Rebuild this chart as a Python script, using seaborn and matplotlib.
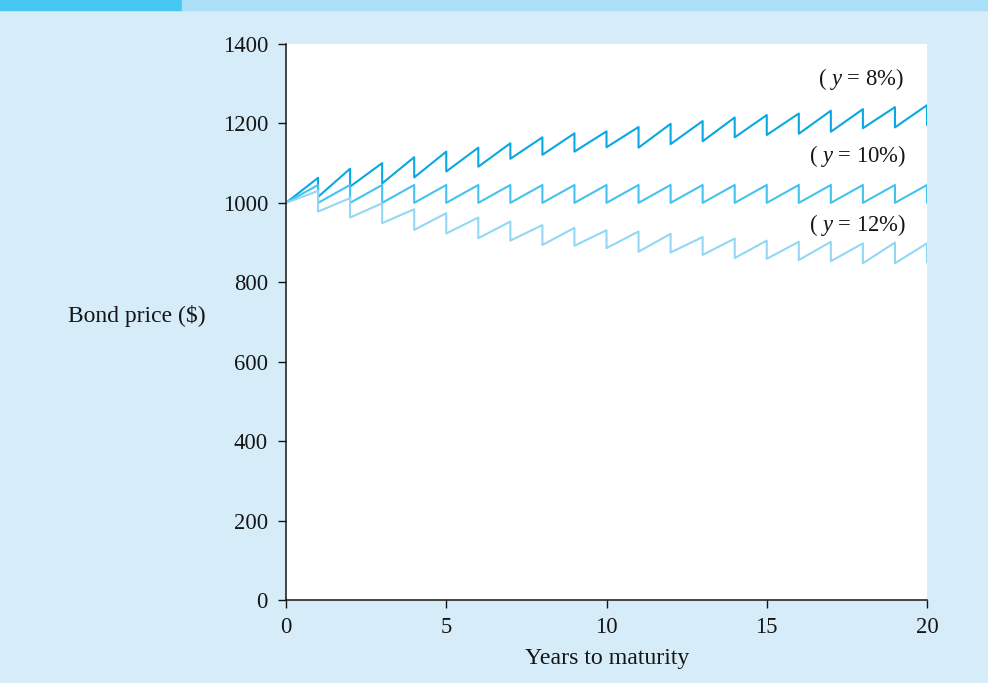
import matplotlib
matplotlib.use("Agg")
import matplotlib.pyplot as plt
from matplotlib.patches import Rectangle
import seaborn as sns
import pandas as pd

# price at each coupon date: value just before (peak) and after (trough) the drop
years = list(range(1, 21))
peak_8 = [1063, 1086, 1100, 1115, 1129, 1139, 1150, 1165, 1175, 1180,
          1191, 1199, 1206, 1215, 1221, 1225, 1232, 1236, 1241, 1246]
trough_8 = [1015, 1041, 1049, 1064, 1079, 1091, 1111, 1121, 1129, 1140,
            1139, 1148, 1155, 1165, 1171, 1174, 1179, 1188, 1190, 1196]
peak_10 = [1045, 1045, 1045, 1045, 1045, 1045, 1045, 1045, 1045, 1045,
           1045, 1045, 1045, 1045, 1045, 1045, 1045, 1045, 1045, 1045]
trough_10 = [1000, 1000, 1000, 1000, 1000, 1000, 1000, 1000, 1000, 1000,
             1000, 1000, 1000, 1000, 1000, 1000, 1000, 1000, 1000, 1000]
peak_12 = [1030, 1012, 999, 984, 974, 963, 953, 944, 937, 931,
           928, 922, 914, 910, 905, 902, 902, 898, 900, 898]
trough_12 = [978, 963, 949, 932, 923, 911, 905, 894, 892, 886,
             877, 875, 869, 861, 859, 856, 853, 848, 848, 850]
start_price = 1000

series = {"8%": (peak_8, trough_8), "10%": (peak_10, trough_10), "12%": (peak_12, trough_12)}
colors = {"8%": "#0AA8E2", "10%": "#45C2EE", "12%": "#92D8F5"}
labels = {"8%": (17.95, 1312), "10%": (17.85, 1119), "12%": (17.85, 945)}

rows = []
for name, (peaks, troughs) in series.items():
    rows.append({"yield": name, "t": 0, "price": start_price})
    for yr, p, tr in zip(years, peaks, troughs):
        rows.append({"yield": name, "t": yr, "price": p})
        rows.append({"yield": name, "t": yr, "price": tr})
df = pd.DataFrame(rows)

sns.set_style("ticks")
plt.rcParams["font.family"] = ["Liberation Serif", "DejaVu Serif"]
plt.rcParams["mathtext.fontset"] = "custom"
plt.rcParams["mathtext.it"] = "Liberation Serif:italic"
plt.rcParams["mathtext.rm"] = "Liberation Serif"

bg = "#D6ECF9"
ink = "#151515"
fig = plt.figure(figsize=(9.88, 6.83), dpi=100, facecolor=bg)
ax = fig.add_axes([286 / 988, 1 - 600 / 683, 641 / 988, 556 / 683])
ax.set_facecolor("white")

# header strip
fig.patches.append(Rectangle((0, 1 - 10 / 683), 182 / 988, 10 / 683, transform=fig.transFigure,
                             color="#46C8F3", zorder=0))
fig.patches.append(Rectangle((182 / 988, 1 - 10 / 683), 806 / 988, 10 / 683, transform=fig.transFigure,
                             color="#A9E0F8", zorder=0))

sns.lineplot(data=df, x="t", y="price", hue="yield", palette=colors, estimator=None,
             sort=False, linewidth=1.5, legend=False, ax=ax)

for name, (lx, ly) in labels.items():
    ax.text(lx, ly, "( $y$ = " + name + ")", ha="center", va="center", fontsize=16.3, color=ink)

ax.set_xlim(0, 20)
ax.set_ylim(0, 1400)
ax.set_xticks([0, 5, 10, 15, 20])
ax.set_yticks(range(0, 1401, 200))
ax.tick_params(direction="out", length=6, width=1, colors=ink, labelsize=16.3)
ax.tick_params(axis="x", pad=6.5)
ax.tick_params(axis="y", pad=7)
for s in ["top", "right"]:
    ax.spines[s].set_visible(False)
for s in ["left", "bottom"]:
    ax.spines[s].set_color(ink)
    ax.spines[s].set_linewidth(1.1)

ax.set_xlabel("Years to maturity", fontsize=17.2, color=ink)
ax.xaxis.set_label_coords(0.5008, -0.106)
ax.xaxis.label.set_va("center")
ax.set_ylabel("Bond price ($)", fontsize=17, color=ink, rotation=0, ha="center", va="center")
ax.yaxis.set_label_coords(-0.2325, 0.511)

fig.savefig("out.png", dpi=100, facecolor=bg)
